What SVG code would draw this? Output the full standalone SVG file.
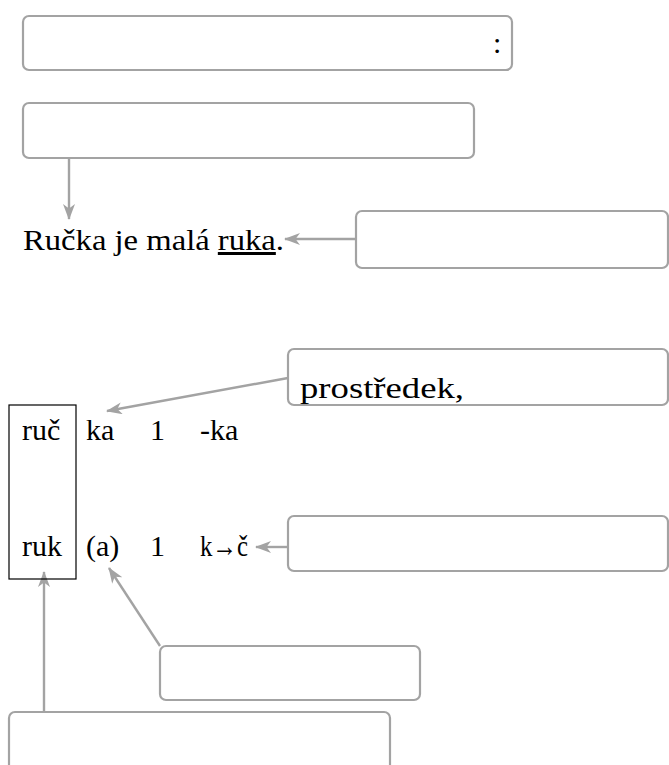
<svg xmlns="http://www.w3.org/2000/svg" width="669" height="765" viewBox="0 0 669 765">
<defs>
<style>
.box{fill:#fff;stroke:#a3a3a3;stroke-width:2.2}
.t{font-family:"Liberation Serif",serif;font-size:30px;fill:#000}
.c{fill:none;stroke:#a3a3a3;stroke-width:2.4}
</style>
<marker id="ah" viewBox="0 0 16 12" refX="15" refY="6" markerWidth="16" markerHeight="12" markerUnits="userSpaceOnUse" orient="auto">
<path d="M0,0 L16,6 L0,12 L4.5,6 Z" fill="#a3a3a3"/>
</marker>
</defs>
<rect width="669" height="765" fill="#fff"/>
<g id="connectors">
<line class="c" x1="69" y1="158" x2="69" y2="219" marker-end="url(#ah)"/>
<line class="c" x1="356" y1="239" x2="285" y2="239" marker-end="url(#ah)"/>
<line class="c" x1="288" y1="378" x2="107" y2="411" marker-end="url(#ah)"/>
<line class="c" x1="288" y1="547" x2="256" y2="547" marker-end="url(#ah)"/>
<line class="c" x1="160" y1="646" x2="109" y2="568" marker-end="url(#ah)"/>
<line class="c" x1="44" y1="712" x2="44" y2="572" marker-end="url(#ah)"/>
</g>
<g id="n1"><rect class="box" x="23" y="16" width="489" height="54" rx="6"/><text class="t" x="493" y="53">:</text></g>
<g id="n2"><rect class="box" x="23" y="103" width="451" height="55" rx="6"/></g>
<g id="sentence"><text class="t" x="23" y="250" textLength="261" lengthAdjust="spacingAndGlyphs">Ručka je malá <tspan text-decoration="underline">ruka</tspan>.</text></g>
<g id="n3"><rect class="box" x="356" y="211" width="312" height="57" rx="6"/></g>
<g id="n4"><rect class="box" x="288" y="349" width="380" height="56" rx="6"/><text class="t" x="300" y="398" textLength="164" lengthAdjust="spacingAndGlyphs">prostředek,</text></g>
<g id="stem"><rect x="9" y="405" width="67" height="174" fill="none" stroke="#000" stroke-width="1.2"/></g>
<g id="row1">
<text class="t" x="22" y="440">ruč</text>
<text class="t" x="86" y="440">ka</text>
<text class="t" x="150" y="440">1</text>
<text class="t" x="200" y="440">-ka</text>
</g>
<g id="row2">
<text class="t" x="22" y="556">ruk</text>
<text class="t" x="86" y="556">(a)</text>
<text class="t" x="150" y="556">1</text>
<text class="t" x="200" y="556" textLength="48" lengthAdjust="spacingAndGlyphs">k→č</text>
</g>
<g id="n5"><rect class="box" x="288" y="516" width="380" height="55" rx="6"/></g>
<g id="n6"><rect class="box" x="160" y="646" width="260" height="54" rx="6"/></g>
<g id="n7"><rect class="box" x="9" y="712" width="381" height="60" rx="6"/></g>
</svg>
